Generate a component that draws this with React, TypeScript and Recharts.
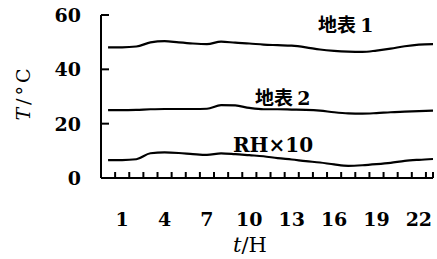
import { LineChart, Line, XAxis, YAxis } from "recharts";

// hour of day (0..23) and the three curves
const hours = [0, 1, 2, 3, 4, 5, 6, 7, 8, 9, 10, 11, 12, 13, 14, 15, 16, 17, 18, 19, 20, 21, 22, 23];
const surface1 = [48.1, 48.1, 48.4, 49.9, 50.4, 49.9, 49.5, 49.3, 50.2, 49.8, 49.5, 49.1, 48.9, 48.7, 48.1, 47.3, 46.8, 46.5, 46.4, 46.9, 47.6, 48.5, 49.1, 49.3];
const surface2 = [25.0, 25.0, 25.1, 25.3, 25.4, 25.4, 25.4, 25.5, 26.8, 26.7, 25.8, 25.3, 25.3, 25.2, 25.1, 24.8, 24.2, 23.8, 23.7, 23.9, 24.2, 24.4, 24.6, 24.8];
const rhTimes10 = [6.6, 6.6, 6.9, 9.1, 9.4, 9.2, 8.8, 8.5, 9.1, 8.8, 8.4, 8.0, 7.3, 6.8, 6.2, 5.7, 5.0, 4.5, 4.7, 5.1, 5.6, 6.3, 6.7, 7.0];

const hourLabels = [1, 4, 7, 10, 13, 16, 19, 22];
const hourMarks = [0.5, 1.5, 2.5, 3.5, 4.5, 5.5, 6.5, 7.5, 8.5, 9.5, 10.5, 11.5, 12.5, 13.5, 14.5, 15.5, 16.5, 17.5, 18.5, 19.5, 20.5, 21.5, 22.5, 23];
const tempTicks = [0, 20, 40, 60];

const data = hours.map((h, i) => ({ hour: h, s1: surface1[i], s2: surface2[i], rh: rhTimes10[i] }));
const xTicks = [...hourMarks, ...hourLabels].sort((a, b) => a - b);

const SERIF = "'DejaVu Serif', serif";
const CJK = "'Noto Sans CJK SC', sans-serif";

function HourTick({ x, y, payload }: any) {
  const v = payload.value;
  if (hourLabels.includes(v)) {
    return (
      <text x={x} y={y + 48} textAnchor="middle" fontFamily={SERIF} fontSize={19} fontWeight="bold" fill="#000">
        {v}
      </text>
    );
  }
  return <line x1={x} y1={y} x2={x} y2={y - 6} stroke="#000" strokeWidth={2} />;
}

function TempTick({ x, y, payload }: any) {
  return (
    <g>
      {payload.value > 0 && <line x1={x} y1={y} x2={x + 8} y2={y} stroke="#000" strokeWidth={2} />}
      <text x={x - 20} y={y} dy={7} textAnchor="end" fontFamily={SERIF} fontSize={19} fontWeight="bold" fill="#000">
        {payload.value}
      </text>
    </g>
  );
}

export default function App() {
  return (
    <div style={{ position: "absolute", left: 0, top: 0, width: 437, height: 259, background: "#fff" }}>
      <LineChart width={437} height={259} data={data} margin={{ top: 15, right: 4, left: 0, bottom: 0 }}>
        <XAxis
          dataKey="hour"
          type="number"
          domain={[-0.5, 23]}
          ticks={xTicks}
          interval={0}
          tickSize={0}
          tickMargin={0}
          tickLine={false}
          tick={<HourTick />}
          height={81}
          stroke="#000"
          strokeWidth={2}
        />
        <YAxis
          type="number"
          domain={[0, 60]}
          ticks={tempTicks}
          interval={0}
          tickSize={0}
          tickMargin={0}
          tickLine={false}
          tick={<TempTick />}
          width={101}
          stroke="#000"
          strokeWidth={2}
        />
        <Line type="monotone" dataKey="s1" stroke="#000" strokeWidth={2.2} dot={false} isAnimationActive={false} />
        <Line type="monotone" dataKey="s2" stroke="#000" strokeWidth={2.2} dot={false} isAnimationActive={false} />
        <Line type="monotone" dataKey="rh" stroke="#000" strokeWidth={2.2} dot={false} isAnimationActive={false} />
      </LineChart>
      <svg width={437} height={259} style={{ position: "absolute", left: 0, top: 0, pointerEvents: "none" }}>
        <text
          transform="translate(30,93) rotate(-90)"
          textAnchor="middle"
          fontFamily={SERIF}
          fontSize={19}
          letterSpacing={3}
          fill="#000"
        >
          <tspan fontStyle="italic">T</tspan>/°C
        </text>
        <text x={250} y={252} textAnchor="middle" fontFamily={SERIF} fontSize={21} fill="#000">
          <tspan fontStyle="italic">t</tspan>/H
        </text>
        <text x={318} y={32} fontFamily={CJK} fontSize={19} fontWeight="bold" fill="#000">
          地表 <tspan fontFamily={SERIF}>1</tspan>
        </text>
        <text x={255} y={105} fontFamily={CJK} fontSize={19} fontWeight="bold" fill="#000">
          地表 <tspan fontFamily={SERIF}>2</tspan>
        </text>
        <text x={233} y={152} fontFamily={SERIF} fontSize={20} fontWeight="bold" fill="#000">
          RH×10
        </text>
      </svg>
    </div>
  );
}
